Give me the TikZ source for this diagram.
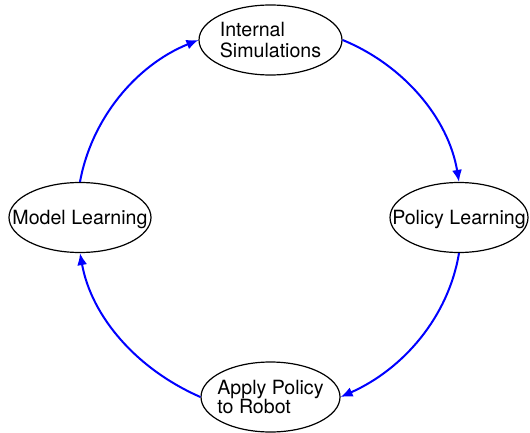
\documentclass[tikz,border=0pt]{standalone}
\usepackage{fontspec}
\setmainfont{TeX Gyre Heros}
\usetikzlibrary{shapes.geometric,arrows.meta}
% label set in a box of no size, so the ellipse keeps its given size
\newcommand{\stagetext}[1]{\smash{\makebox[0pt]{\raisebox{-3.8pt}{\begin{tabular}{@{}l@{}}#1\end{tabular}}}}}
\begin{document}
\begin{tikzpicture}[x=0.5pt,y=-0.5pt,
  stage/.style={ellipse,draw,line width=0.6pt,inner sep=0pt,
    minimum width=70pt,minimum height=35pt,
    font=\fontsize{9.8}{9.2}\selectfont},
  flow/.style={draw=blue,line width=1pt,-{Latex[length=6pt,width=5pt]}}]
\useasboundingbox (0,0) rectangle (530,433);
\node[stage,minimum width=71.5pt] (sim) at (270.5,40) {\stagetext{Internal\\Simulations}};
\node[stage,minimum width=69pt] (pol) at (459,217.5) {\stagetext{Policy Learning}};
\node[stage,minimum width=69.5pt] (app) at (270.5,397) {\stagetext{Apply Policy\\to Robot}};
\node[stage,minimum width=71pt] (mod) at (80,217.5) {\stagetext{Model Learning}};
% quarter arcs of one circle round the middle of the cycle
\draw[flow] (mod.north) .. controls (91.5,118.4) and (136.4,65) .. (sim.west);
\draw[flow] (sim.east) .. controls (403.6,65) and (448.5,118.4) .. (pol.north);
\draw[flow] (pol.south) .. controls (448.5,316.6) and (403.6,369) .. (app.east);
\draw[flow] (app.west) .. controls (136.4,369) and (91.5,316.6) .. (mod.south);
\end{tikzpicture}
\end{document}
